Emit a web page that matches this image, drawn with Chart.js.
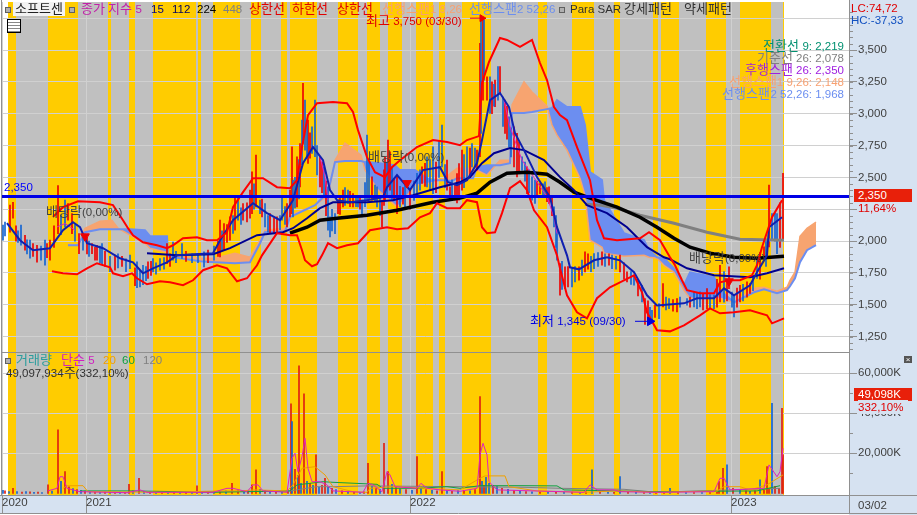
<!DOCTYPE html>
<html>
<head>
<meta charset="utf-8">
<script src="https://cdn.jsdelivr.net/npm/chart.js@4"></script>
<style>
@font-face { font-family: "ChartHangul"; src: local("Noto Sans CJK KR"), local("Noto Sans CJK KR Regular"); size-adjust: 113%; unicode-range: U+AC00-D7A3; }
body { margin: 0; background: #fff; }
#wrap { position: relative; width: 917px; height: 515px; overflow: hidden; font-family: "ChartHangul", "Liberation Sans", "Noto Sans CJK KR", sans-serif; font-size: 11.5px; }
#chart { position: absolute; left: 0; top: 0; }
.t { position: absolute; white-space: nowrap; line-height: 14px; }
.r { text-align: right; right: 73px; }
.sq { position: absolute; width: 4px; height: 4px; background: #b0b0b0; border: 1px solid #606060; }
</style>
</head>
<body>
<div id="wrap">
<canvas id="chart" width="917" height="515"></canvas>

<div class="sq" style="left:5px;top:7px"></div>
<span class="t" style="left:13px;top:2px;width:52px;text-align:center;background:#f2f2f2;color:#222">소프트센</span>
<div class="sq" style="left:69px;top:7px"></div>
<span class="t" style="left:81px;top:2px;color:#c020a8">종가 지수 5</span>
<span class="t" style="left:151px;top:2px;color:#000080">15</span>
<span class="t" style="left:172px;top:2px;color:#000060">112</span>
<span class="t" style="left:197px;top:2px;color:#000">224</span>
<span class="t" style="left:223px;top:2px;color:#808080">448</span>
<span class="t" style="left:249px;top:2px;color:#e00000">상한선</span>
<span class="t" style="left:292px;top:2px;color:#e00000">하한선</span>
<span class="t" style="left:337px;top:2px;color:#e00000">상한선</span>
<span class="t" style="left:382px;top:2px;color:#f8a070">선행스팬1 9,26</span>
<span class="t" style="left:469px;top:2px;color:#6b8ef0">선행스팬2 52,26</span>
<div class="sq" style="left:559px;top:7px"></div>
<span class="t" style="left:570px;top:2px;color:#303030">Para SAR 강세패턴</span>
<span class="t" style="left:684px;top:2px;color:#303030">약세패턴</span>

<div style="position:absolute;left:7px;top:19px;width:12px;height:12px;border:1px solid #000;background:repeating-linear-gradient(#fff 0 2px,#888 2px 3px)"></div>

<span class="t" style="left:4px;top:180px;color:#0000ff">2,350</span>
<span class="t" style="left:46px;top:205px;color:#404040">배당락(0,00%)</span>
<span class="t" style="left:368px;top:150px;color:#404040">배당락(0,00%)</span>
<span class="t" style="left:689px;top:251px;color:#404040">배당락(0,00%)</span>
<span class="t" style="left:366px;top:14px;color:#e00000">최고 3,750 (03/30)</span>
<span class="t" style="left:530px;top:314px;color:#0000e0">최저 1,345 (09/30)</span>

<span class="t r" style="top:39px;color:#009070">전환선 9: 2,219</span>
<span class="t r" style="top:51px;color:#808080">기준선 26: 2,078</span>
<span class="t r" style="top:63px;color:#a020e0">후행스팬 26: 2,350</span>
<span class="t r" style="top:75px;color:#f8a070">선행스팬1 9,26: 2,148</span>
<span class="t r" style="top:87px;color:#6b8ef0">선행스팬2 52,26: 1,968</span>

<span class="t" style="left:851px;top:1px;color:#e00000">LC:74,72</span>
<span class="t" style="left:851px;top:13px;color:#1050c0">HC:-37,33</span>
<span class="t" style="left:854px;top:189px;width:58px;height:13px;line-height:13px;background:#e8200a;color:#fff;text-indent:4px">2,350</span>
<span class="t" style="left:858px;top:201px;color:#e00000">11,64%</span>

<div class="sq" style="left:5px;top:358px"></div>
<span class="t" style="left:16px;top:353px;color:#2a9d9d">거래량</span>
<span class="t" style="left:61px;top:353px;color:#d020c0">단순 5</span>
<span class="t" style="left:103px;top:353px;color:#f0a000">20</span>
<span class="t" style="left:122px;top:353px;color:#10a040">60</span>
<span class="t" style="left:143px;top:353px;color:#808080">120</span>
<span class="t" style="left:6px;top:366px;color:#303030">49,097,934주(332,10%)</span>

<span class="t" style="left:904px;top:356px;width:8px;height:7px;line-height:7px;background:#555;color:#fff;font-size:8px;text-align:center">×</span>
<span class="t" style="left:854px;top:388px;width:58px;height:13px;line-height:13px;background:#e8200a;color:#fff;text-indent:4px">49,098K</span>
<span class="t" style="left:858px;top:400px;width:50px;background:#d6e2f1;color:#e00000">332,10%</span>
<span class="t" style="left:858px;top:498px;color:#404040">03/02</span>
</div>

<script>
// price ticks, volume ticks, year labels
const priceTicks = [3750, 3500, 3250, 3000, 2750, 2500, 2250, 2000, 1750, 1500, 1250];
const priceTickLabels = ['', '3,500', '3,250', '3,000', '2,750', '2,500', '', '2,000', '1,750', '1,500', '1,250'];
const volumeTicks = [60000, 40000, 20000];
const volumeTickLabels = ['60,000K', '40,000K', '20,000K'];
const yearDays = [2, 86, 410, 731];
const yearLabels = ['2020', '2021', '2022', '2023'];

// background pattern periods, in chart slots
const patternFirst = 8;
const patternLast = 784;
const strongStart = [8, 48, 108, 129, 153, 198, 213, 251, 281, 290, 338, 367, 388, 416, 439, 462, 538, 572, 614, 653, 661, 706, 740, 783];
const strongEnd = [16, 78, 111, 135, 196, 201, 240, 261, 287, 317, 358, 380, 402, 433, 445, 491, 547, 594, 620, 658, 679, 726, 771, 784];

const lastClose = 2350;
const closeLineDays = [2, 849];

// [slot, price]
const upperBand = [[53,2190],[63,2266],[78,2313],[100,2305],[113,2282],[123,2164],[128,2101],[133,2046],[143,1991],[157,1967],[167,1944],[173,1967],[183,2022],[197,2030],[207,2007],[217,2007],[227,2069],[233,2266],[243,2384],[253,2494],[263,2494],[277,2423],[290,2415],[297,2478],[302,2738],[308,2989],[317,3083],[333,3091],[347,3083],[353,3013],[358,2871],[367,2659],[375,2541],[385,2502],[392,2580],[400,2635],[417,2738],[433,2793],[447,2777],[460,2753],[467,2793],[479,2824],[482,3241],[489,3406],[500,3594],[507,3579],[520,3524],[532,3579],[540,3398],[547,3264],[554,3052],[560,2989],[567,2950],[577,2738],[590,2478],[597,2164],[604,2022],[617,2007],[640,2022],[649,2069],[660,2007],[670,1873],[675,1810],[682,1692],[687,1614],[700,1590],[714,1590],[720,1676],[729,1692],[740,1692],[752,1731],[757,1810],[762,1952],[772,2187],[782,2321]];
const lowerBand = [[52,1763],[63,1747],[77,1739],[87,1786],[97,1826],[110,1794],[113,1747],[123,1724],[132,1747],[137,1708],[147,1661],[160,1684],[170,1676],[183,1653],[193,1692],[203,1771],[217,1810],[227,1786],[237,1684],[247,1708],[257,1810],[262,1888],[277,2062],[290,2046],[297,2046],[302,1928],[305,1849],[312,1802],[317,1818],[322,1888],[328,1983],[337,1944],[347,1967],[358,1983],[370,2085],[387,2109],[397,2093],[408,2101],[420,2187],[430,2219],[437,2297],[447,2258],[460,2258],[467,2321],[477,2305],[482,2109],[487,2062],[495,2069],[502,2219],[510,2415],[520,2470],[527,2400],[534,2242],[547,2109],[557,1888],[560,1786],[567,1574],[577,1441],[587,1393],[597,1551],[610,1637],[620,1676],[634,1731],[642,1598],[647,1441],[657,1299],[670,1291],[684,1338],[700,1417],[710,1472],[720,1433],[734,1441],[750,1456],[767,1417],[772,1354],[784,1393]];
const ma15 = [[7,2140],[20,2007],[33,1928],[50,1944],[63,2085],[73,2148],[80,2109],[87,1983],[103,1944],[120,1865],[133,1833],[143,1747],[153,1786],[167,1833],[177,1888],[213,1904],[220,2007],[233,2164],[253,2297],[267,2219],[280,2164],[293,2321],[303,2612],[313,2738],[323,2635],[330,2400],[337,2321],[350,2305],[367,2321],[383,2345],[387,2423],[397,2518],[410,2400],[423,2557],[440,2580],[448,2462],[457,2439],[467,2478],[477,2612],[482,2793],[490,3107],[500,3162],[509,3052],[515,2847],[524,2714],[537,2502],[550,2345],[557,2109],[567,1888],[570,1794],[579,1778],[594,1849],[607,1873],[620,1849],[634,1755],[647,1574],[657,1495],[684,1511],[697,1551],[714,1551],[724,1629],[734,1574],[750,1653],[757,1755],[767,1888],[769,2109],[782,2187]];
const ma112 = [[147,1904],[177,1888],[213,1896],[230,1944],[257,2046],[283,2069],[293,2101],[307,2179],[320,2258],[333,2305],[367,2305],[393,2321],[413,2360],[440,2423],[460,2462],[470,2502],[482,2612],[494,2690],[510,2730],[524,2714],[544,2635],[560,2502],[574,2400],[587,2282],[607,2219],[627,2109],[647,1952],[664,1873],[670,1857],[687,1786],[714,1731],[750,1716],[767,1747],[784,1786]];
const ma224 = [[290,2062],[307,2109],[320,2164],[337,2179],[367,2203],[397,2242],[433,2305],[460,2337],[477,2376],[490,2462],[507,2533],[527,2541],[547,2525],[560,2462],[574,2384],[590,2337],[617,2266],[640,2187],[657,2109],[674,2022],[690,1952],[710,1905],[734,1873],[757,1865],[784,1881]];
const ma448 = [[585,2290],[600,2282],[617,2258],[640,2203],[674,2140],[707,2069],[740,2014],[784,2007]];
const ma5 = [[57,2111],[65,2138],[75,2085],[76,null],[320,2662],[325,2504],[328,2321],[329,null],[504,3107],[510,2897],[522,2635],[529,2557],[547,2347],[554,2190],[557,2059]];

// leading spans, on the same slots
const spanDays = [68,78,85,100,112,118,130,145,150,167,168,180,200,215,235,250,260,265,285,290,315,328,335,345,361,365,378,395,400,415,430,445,452,457,473,477,487,500,510,512,524,532,547,552,557,567,580,585,590,602,604,624,644,649,657,664,674,684,690,714,720,734,754,764,777,787,790,795,800,807,816];
const spanA = [1975,1967,2101,2156,2164,2101,2046,1983,1944,1912,1889,1881,1865,1865,1904,1873,2007,2085,2101,2203,2282,2360,2635,2769,2675,2557,2400,2282,2282,2439,2455,2494,2541,2572,2572,2557,2518,2635,2635,3068,3249,3170,3060,2911,2832,2714,2494,2360,2007,1952,1904,1881,1889,1873,1865,1810,1755,1614,1551,1551,1551,1519,1629,1637,1606,1637,1692,1755,2038,2101,2148];
const spanB = [1967,1967,2070,2093,2093,2093,2093,2085,2038,2038,1881,1865,1842,1834,1826,1834,1983,2070,2077,2188,2282,2384,2620,2628,2628,2620,2612,2596,2557,2557,2478,2478,2470,2494,2494,2580,2596,2596,2612,3005,3005,3013,3036,3044,3107,3052,3052,2910,2541,2478,2321,2062,2007,1928,1873,1865,1786,1653,1755,1716,1614,1519,1598,1621,1590,1614,1645,1708,1834,1928,1968];

// wicks: slot, low, high, up
const wickDays = [3,10,13,21,25,30,37,45,50,58,65,68,72,79,83,92,97,102,115,130,137,143,148,153,160,167,173,182,204,220,224,230,235,238,243,252,256,260,265,270,277,282,287,292,293,297,300,303,305,308,312,315,320,324,328,330,335,338,343,348,353,358,362,367,372,377,382,385,388,392,397,405,417,422,427,433,442,447,450,455,459,462,467,472,477,480,481,483,484,487,490,495,498,500,505,509,514,517,522,527,532,535,540,545,549,554,557,560,565,572,579,585,594,602,612,620,627,634,642,645,652,659,663,669,677,687,694,700,707,714,720,729,734,740,750,757,764,769,772,777,783,
    5,16,18,27,33,41,47,54,61,75,87,89,95,100,105,110,118,122,126,135,140,146,151,156,164,170,176,186,192,198,208,214,218,222,227,233,241,247,250,254,262,268,274,280,285,290,295,299,302,307,310,317,322,326,332,340,345,350,356,360,365,369,375,380,384,387,390,394,400,403,410,414,420,425,430,436,439,445,452,457,464,470,475,492,494,503,507,511,519,525,529,537,543,547,552,556,562,568,575,582,588,591,598,605,609,616,624,631,638,648,650,655,666,673,680,690,697,703,710,717,724,727,732,737,743,747,753,760,766,775,780];
const wickLow = [2007,2069,2180,1967,1928,1865,1834,1810,1850,2059,2111,2164,2059,1902,1928,1902,1850,1823,1771,1784,1635,1658,1706,1758,1771,1823,1850,1863,1797,1876,1928,2007,2085,2164,2164,2216,2269,2216,2111,2059,2059,2164,2111,2216,2190,2269,2426,2766,2714,2609,2688,2662,2426,2347,2085,2033,2059,2216,2269,2295,2269,2269,2190,2321,2321,2269,2111,2321,2426,2321,2216,2269,2347,2452,2426,2373,2583,2400,2321,2321,2321,2400,2478,2583,2557,2662,2845,3107,3264,3107,3002,3055,3107,3159,2845,2740,2583,2504,2557,2373,2321,2295,2373,2347,2295,2111,1850,1575,1627,1640,1692,1758,1784,1810,1784,1758,1679,1653,1522,1345,1378,1391,1483,1470,1444,1496,1483,1483,1470,1470,1522,1627,1404,1522,1588,1706,1850,1954,2007,1902,2007,
    2040,2000,1990,1900,1880,1850,1870,1950,2050,2000,1900,1880,1850,1830,1800,1760,1790,1800,1760,1650,1640,1690,1730,1740,1780,1800,1830,1840,1830,1830,1830,1850,1880,1930,1990,2060,2130,2150,2180,2250,2190,2070,2060,2090,2130,2190,2260,2330,2600,2650,2650,2520,2380,2200,2080,2210,2280,2270,2270,2250,2270,2330,2310,2200,2280,2350,2400,2330,2270,2290,2250,2320,2400,2430,2400,2380,2500,2420,2330,2300,2420,2500,2580,3000,3060,2900,2800,2660,2530,2470,2380,2340,2340,2310,2200,1950,1620,1640,1680,1730,1780,1760,1800,1800,1810,1780,1700,1660,1570,1380,1370,1400,1460,1450,1480,1480,1470,1460,1470,1480,1520,1530,1480,1480,1530,1560,1610,1700,1800,2000,1950];
const wickHigh = [2125,2282,2305,2125,2046,2007,1967,2007,2007,2435,2321,2295,2216,2059,2059,1980,1967,1980,1889,1889,1837,1810,1837,1863,1863,1980,1993,1980,1915,2164,2138,2190,2347,2347,2295,2544,2675,2321,2295,2216,2190,2347,2295,2740,2478,2662,2766,3238,3107,2950,2897,3107,2662,2583,2426,2190,2216,2321,2400,2400,2373,2347,2321,2832,2504,2426,2321,2662,2793,2583,2504,2452,2531,2583,2662,2740,2911,2635,2426,2452,2609,2714,2740,2766,2714,3552,3736,3736,3736,3290,3290,3264,3369,3369,3107,2976,2897,2845,2662,2583,2504,2478,2452,2465,2426,2269,2111,1823,1797,1784,1797,1915,1902,1915,1889,1889,1758,1732,1653,1548,1457,1509,1666,1548,1548,1548,1601,1601,1627,1575,1810,1797,1575,1653,1666,1863,1954,2439,2216,2216,2531,
    2150,2120,2080,2010,1980,1960,1980,2120,2200,2130,2030,2000,1950,1960,1920,1880,1900,1880,1860,1790,1770,1800,1840,1830,1870,1900,1920,1920,1900,1900,1930,1960,2000,2080,2130,2200,2260,2300,2400,2450,2330,2200,2180,2200,2270,2400,2500,2640,2950,2920,2850,2750,2620,2470,2250,2350,2420,2390,2360,2340,2460,2620,2440,2340,2560,2620,2700,2490,2430,2420,2400,2470,2560,2610,2640,2620,2790,2600,2480,2530,2680,2730,2730,3250,3230,3130,3060,2890,2780,2620,2560,2470,2450,2420,2350,2200,1840,1800,1800,1850,1900,1880,1910,1900,1900,1880,1830,1760,1700,1530,1480,1500,1560,1540,1560,1560,1590,1590,1580,1700,1760,1700,1600,1630,1660,1680,1730,1910,2000,2220,2300];
const wickUp = [0,1,1,0,1,0,1,0,1,1,0,1,1,1,0,1,1,0,1,0,0,0,1,0,0,1,0,0,0,1,1,1,1,0,1,1,1,0,0,1,1,0,1,1,0,1,1,1,0,1,0,0,1,0,0,0,0,1,1,0,1,0,0,0,1,0,1,1,1,0,1,0,0,1,0,0,0,1,1,1,1,1,0,0,1,1,0,1,0,1,0,1,0,1,1,0,1,1,0,1,0,0,1,0,1,0,0,1,1,0,1,1,0,1,0,1,1,0,0,1,0,0,1,0,1,0,0,0,1,0,1,1,0,1,1,0,1,1,0,0,1,
    0,1,0,0,1,0,1,1,0,0,1,0,1,0,1,0,0,1,0,1,0,0,1,0,0,1,0,1,0,0,1,0,1,0,1,0,0,1,1,0,1,0,1,0,0,1,0,0,0,0,1,0,1,1,0,1,0,1,0,1,0,0,0,0,1,0,1,1,0,1,1,0,0,1,0,1,0,0,0,1,0,1,0,1,0,0,1,0,1,0,0,1,0,1,1,0,0,1,0,0,1,0,0,0,1,0,1,0,1,1,0,1,0,1,0,1,0,1,0,1,0,1,0,1,0,1,0,1,0,0,1];

const dividendDays = [85, 407, 729];
const dividendPrices = [2037, 2455, 1684];
const highArrowDays = [470, 482];
const highArrowPrices = [3750, 3750];
const lowArrowDays = [635, 650];
const lowArrowPrices = [1370, 1370];

// volume in thousands of shares
const volDays = [3,5,9,13,17,22,26,30,34,38,42,48,52,58,61,65,69,73,77,81,85,90,95,100,105,110,115,120,125,129,133,139,144,150,156,162,168,174,180,186,192,197,202,208,214,220,226,232,238,244,248,252,256,260,265,270,276,282,288,291,292,295,298,299,301,304,307,310,313,316,319,322,325,328,332,336,342,348,354,360,364,368,372,376,380,384,388,392,396,400,406,412,417,421,426,432,437,442,447,452,458,464,470,475,480,482,484,486,489,493,497,502,508,514,520,526,532,540,548,556,564,572,580,586,592,600,608,614,620,628,636,644,650,656,664,670,678,686,694,702,710,717,719,723,727,733,740,746,750,755,760,764,767,769,772,775,779,782,783];
const volValues = [1500,1200,900,2500,800,600,900,700,500,600,400,4200,1100,31700,6000,10800,3200,2400,1800,1500,1100,800,700,500,600,500,400,600,500,4500,1200,7500,1000,600,500,400,600,500,400,500,600,3700,800,600,700,900,1200,5000,1300,900,1200,4200,11700,2000,1500,1000,800,600,900,44700,35800,12000,9000,63700,5000,49700,6000,5000,4000,19200,3000,4000,7500,3000,2500,1800,1200,800,600,500,700,15000,3500,2500,2000,25000,10800,4500,3000,2200,1800,1500,18300,2500,1800,1500,1200,10800,1500,1000,1300,1500,1200,1800,48300,6000,4000,8000,5000,4000,3500,2500,2000,1500,1200,900,700,600,500,700,500,600,500,700,11700,800,600,500,8300,700,500,400,400,300,400,2500,300,400,300,400,300,500,5800,12500,14200,2500,1500,1200,1000,1200,6700,1500,13300,2500,45000,3500,2500,42500,19200,49100];
const volUp = [0,1,0,1,0,1,0,1,0,1,0,1,0,1,0,1,1,0,1,0,1,0,1,0,1,0,1,0,1,1,0,1,0,1,0,1,0,1,0,1,0,1,0,1,0,1,0,1,1,0,1,1,1,0,1,0,1,0,1,1,0,1,0,1,0,1,0,1,0,1,0,1,1,0,1,0,1,0,1,0,1,1,0,1,0,1,1,0,1,0,1,0,1,0,1,0,1,1,0,1,0,1,0,1,1,0,1,0,0,1,0,1,0,1,0,1,0,1,0,1,0,1,0,1,0,1,0,1,0,1,0,1,0,1,1,0,1,0,1,0,1,1,1,1,0,1,0,1,0,1,0,1,1,1,0,1,1,1,1];

const volMa5 = [[48,1200],[57,2500],[60,8300],[63,8300],[67,2500],[80,800],[127,300],[140,1700],[147,500],[213,500],[227,2500],[233,2500],[247,800],[253,4200],[258,4200],[263,1200],[287,500],[292,17500],[295,20000],[298,10800],[302,18300],[305,27500],[308,12500],[312,5800],[320,5800],[327,4200],[333,1200],[363,500],[368,5000],[373,4200],[382,800],[387,10800],[390,9200],[395,3300],[417,2500],[421,5000],[427,2500],[440,1700],[460,1000],[477,2500],[480,19200],[483,25000],[487,19200],[489,5800],[497,1700],[584,500],[590,4200],[597,1700],[614,1700],[620,800],[657,500],[714,800],[720,7500],[724,7500],[730,1700],[764,2500],[769,14200],[777,8300],[780,10800],[783,22500]];
const volMa20 = [[63,2500],[67,3800],[83,3800],[88,800],[167,500],[220,1200],[240,1200],[255,1700],[287,1200],[293,4200],[302,12500],[315,13300],[325,9200],[333,3300],[353,800],[367,500],[370,2500],[393,3300],[460,1700],[480,7500],[485,8700],[505,8700],[509,3300],[537,1200],[584,500],[617,1200],[657,500],[717,1200],[724,3300],[740,3300],[750,1700],[767,4200],[783,9200]];
const volMa60 = [[80,1200],[117,1200],[133,1200],[213,500],[290,1200],[297,4200],[323,5800],[333,5500],[377,4500],[383,2500],[417,2500],[447,3300],[460,2500],[480,3800],[524,3800],[557,3700],[564,1700],[617,1200],[657,800],[757,1200],[780,3800]];
const volMa120 = [[157,800],[213,800],[290,1200],[317,3300],[333,3300],[367,3700],[460,3300],[524,3000],[560,2500],[624,2000],[657,500],[780,2500]];

const yellow = '#ffcc00';
const bandGray = '#c0c0c0';
const axisBlue = '#d6e2f1';
const frameGray = '#909090';
const labelFont = { family: '"Liberation Sans", sans-serif', size: 11.5 };

function toPoints(list) {
    return list.map(p => ({ x: p[0], y: p[1] }));
}

function lineSet(list, color, width, order, axis) {
    return {
        type: 'line', data: toPoints(list), borderColor: color, borderWidth: width,
        pointRadius: 0, tension: 0, order: order, yAxisID: axis || 'y', fill: false
    };
}

// no half label room above or below the value axes
function fitValueAxis(s) {
    s.width = 68;
    s.paddingTop = 0;
    s.paddingBottom = 0;
}

const spanAPoints = spanDays.map((d, i) => [d, spanA[i]]);
const spanBPoints = spanDays.map((d, i) => [d, spanB[i]]);
const spanASet = lineSet(spanAPoints, '#f7a470', 1.5, 20);
spanASet.fill = { target: 1, above: '#f7a470', below: '#6c8ef0' };

const datasets = [
    spanASet,
    lineSet(spanBPoints, '#6c8ef0', 2, 19),
    {
        type: 'bar', yAxisID: 'y', order: 15, grouped: false, barThickness: 1,
        data: wickDays.map((d, i) => ({ x: d, y: [wickLow[i], wickHigh[i]] })),
        backgroundColor: wickDays.map((d, i) => wickUp[i] ? '#ee0000' : '#1464d2')
    },
    lineSet(ma5, '#e020c0', 1, 14),
    lineSet(ma448, '#808080', 3, 9),
    lineSet(ma224, '#000000', 3.5, 8),
    lineSet(ma112, '#000090', 2, 7),
    lineSet(ma15, '#1020b0', 2, 6),
    lineSet(upperBand, '#ff0000', 2, 5),
    lineSet(lowerBand, '#ff0000', 2, 5),
    lineSet(closeLineDays.map(d => [d, lastClose]), '#0000e6', 3, 2),
    {
        type: 'line', showLine: false, yAxisID: 'y', order: 1,
        data: dividendDays.map((d, i) => ({ x: d, y: dividendPrices[i] })),
        pointStyle: 'triangle', pointRotation: 180, pointRadius: 5,
        backgroundColor: '#ee0000', borderColor: '#ee0000'
    },
    {
        type: 'line', yAxisID: 'y', order: 1, borderWidth: 1, borderColor: '#ee0000',
        data: highArrowDays.map((d, i) => ({ x: d, y: highArrowPrices[i] })),
        pointStyle: 'triangle', pointRotation: 90, backgroundColor: '#ee0000',
        pointRadius: c => c.dataIndex === 1 ? 4 : 0
    },
    {
        type: 'line', yAxisID: 'y', order: 1, borderWidth: 1, borderColor: '#0000e0',
        data: lowArrowDays.map((d, i) => ({ x: d, y: lowArrowPrices[i] })),
        pointStyle: 'triangle', pointRotation: 90, backgroundColor: '#0000e0',
        pointRadius: c => c.dataIndex === 1 ? 5 : 0
    },
    {
        type: 'bar', yAxisID: 'yVol', order: 15, grouped: false, barThickness: 1,
        data: volDays.map((d, i) => ({ x: d, y: volValues[i] })),
        backgroundColor: volDays.map((d, i) => volUp[i] ? '#e02010' : '#1464d2')
    },
    lineSet(volMa120, '#808080', 1, 13, 'yVol'),
    lineSet(volMa60, '#10a040', 1, 12, 'yVol'),
    lineSet(volMa20, '#f0a000', 1, 11, 'yVol'),
    lineSet(volMa5, '#e020c0', 1, 10, 'yVol')
];

// yellow/gray periods and the light blue axis panels, under the grid
const backgroundPlugin = {
    id: 'patternBands',
    beforeDraw(chart) {
        const ctx = chart.ctx;
        const area = chart.chartArea;
        const x = chart.scales.x;
        ctx.save();
        ctx.fillStyle = axisBlue;
        ctx.fillRect(area.right, 0, 917 - area.right, 515);
        ctx.fillRect(0, area.bottom, 917, 18);
        ctx.fillStyle = bandGray;
        ctx.fillRect(x.getPixelForValue(patternFirst), area.top, x.getPixelForValue(patternLast) - x.getPixelForValue(patternFirst), area.bottom - area.top);
        ctx.fillStyle = yellow;
        strongStart.forEach((s, i) => {
            const left = x.getPixelForValue(s);
            ctx.fillRect(left, area.top, x.getPixelForValue(strongEnd[i]) - left, area.bottom - area.top);
        });
        ctx.restore();
    },
    afterDraw(chart) {
        const ctx = chart.ctx;
        const area = chart.chartArea;
        const price = chart.scales.y;
        const vol = chart.scales.yVol;
        ctx.save();
        ctx.strokeStyle = frameGray;
        ctx.lineWidth = 1;
        ctx.beginPath();
        // small ticks between the labelled ones
        for (let v = 1150; v < 3850; v += 50) {
            const py = Math.round(price.getPixelForValue(v)) + 0.5;
            ctx.moveTo(area.right, py);
            ctx.lineTo(area.right + 4, py);
        }
        for (let v = 10000; v < 70000; v += 20000) {
            const py = Math.round(vol.getPixelForValue(v)) + 0.5;
            ctx.moveTo(area.right, py);
            ctx.lineTo(area.right + 4, py);
        }
        const sep = Math.round(price.bottom) + 0.5;
        ctx.moveTo(1.5, sep);
        ctx.lineTo(area.right, sep);
        ctx.moveTo(0, area.bottom + 0.5);
        ctx.lineTo(917, area.bottom + 0.5);
        ctx.moveTo(1.5, 0);
        ctx.lineTo(1.5, area.bottom);
        ctx.moveTo(area.right + 0.5, 0);
        ctx.lineTo(area.right + 0.5, 513);
        ctx.moveTo(0, 513.5);
        ctx.lineTo(917, 513.5);
        ctx.stroke();
        ctx.restore();
    }
};

new Chart(document.getElementById('chart').getContext('2d'), {
    type: 'bar',
    data: { datasets: datasets },
    plugins: [backgroundPlugin],
    options: {
        responsive: false,
        animation: false,
        devicePixelRatio: 1,
        layout: { autoPadding: false, padding: { left: 2, top: 2, right: 0, bottom: 0 } },
        plugins: { legend: { display: false }, tooltip: { enabled: false } },
        scales: {
            x: {
                type: 'linear', position: 'bottom', min: 2, max: 849, offset: false,
                border: { display: false },
                afterFit: s => { s.height = 20; s.paddingLeft = 0; s.paddingRight = 0; },
                afterBuildTicks: s => { s.ticks = yearDays.map(v => ({ value: v })); },
                grid: { offset: false, color: '#d0d0d0', tickColor: frameGray, tickLength: 18 },
                ticks: {
                    autoSkip: false, maxRotation: 0, align: 'start', padding: -17,
                    color: '#404040', font: labelFont,
                    callback: (v, i) => yearLabels[i]
                }
            },
            y: {
                position: 'right', stack: 'panes', stackWeight: 350, min: 1129, max: 3877,
                border: { display: false },
                afterFit: fitValueAxis,
                afterBuildTicks: s => { s.ticks = priceTicks.map(v => ({ value: v })); },
                grid: { color: '#d0d0d0', tickColor: frameGray, tickLength: 8 },
                ticks: { autoSkip: false, color: '#404040', font: labelFont, padding: 1, callback: (v, i) => priceTickLabels[i] }
            },
            yVol: {
                axis: 'y', position: 'right', stack: 'panes', stackWeight: 143, min: -850, max: 70650,
                border: { display: false },
                afterFit: fitValueAxis,
                afterBuildTicks: s => { s.ticks = volumeTicks.map(v => ({ value: v })); },
                grid: { color: '#d0d0d0', tickColor: frameGray, tickLength: 8 },
                ticks: { autoSkip: false, color: '#404040', font: labelFont, padding: 1, callback: (v, i) => volumeTickLabels[i] }
            }
        }
    }
});
</script>
</body>
</html>
